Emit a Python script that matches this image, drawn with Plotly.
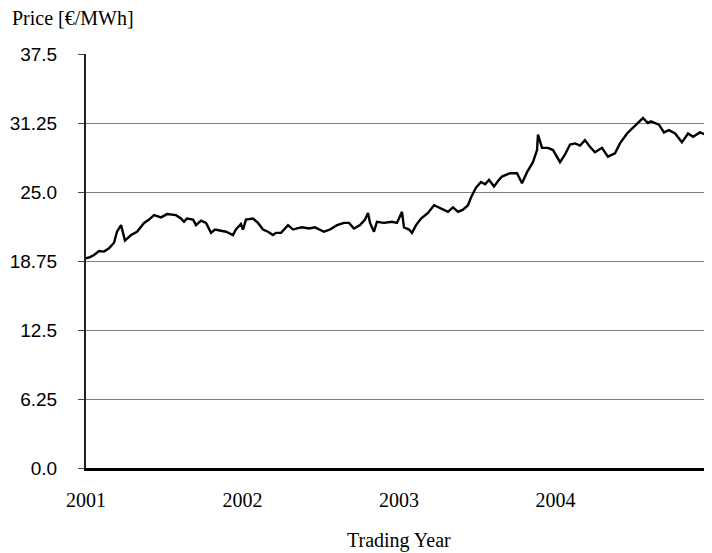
import plotly.graph_objects as go

# trading date as fractional year
years = [
    2001.000, 2001.026, 2001.051, 2001.083, 2001.115, 2001.147, 2001.179, 2001.198,
    2001.224, 2001.249, 2001.288, 2001.326, 2001.371, 2001.403, 2001.435, 2001.479,
    2001.518, 2001.575, 2001.607, 2001.626, 2001.645, 2001.684, 2001.703, 2001.735,
    2001.767, 2001.799, 2001.824, 2001.856, 2001.895, 2001.939, 2001.958, 2001.990,
    2002.003, 2002.022, 2002.067, 2002.099, 2002.131, 2002.163, 2002.195, 2002.214,
    2002.246, 2002.291, 2002.323, 2002.348, 2002.380, 2002.425, 2002.463, 2002.521,
    2002.559, 2002.604, 2002.649, 2002.681, 2002.712, 2002.751, 2002.783, 2002.802,
    2002.815, 2002.840, 2002.859, 2002.904, 2002.955, 2002.987, 2003.006, 2003.019,
    2003.032, 2003.064, 2003.083, 2003.109, 2003.141, 2003.185, 2003.224, 2003.268,
    2003.313, 2003.345, 2003.377, 2003.409, 2003.441, 2003.460, 2003.492, 2003.524,
    2003.550, 2003.575, 2003.607, 2003.639, 2003.658, 2003.709, 2003.754, 2003.786,
    2003.818, 2003.856, 2003.882, 2003.888, 2003.914, 2003.952, 2003.984, 2004.029,
    2004.061, 2004.093, 2004.125, 2004.157, 2004.188, 2004.220, 2004.252, 2004.297,
    2004.335, 2004.380, 2004.412, 2004.457, 2004.495, 2004.534, 2004.559, 2004.591,
    2004.610, 2004.661, 2004.693, 2004.725, 2004.764, 2004.808, 2004.847, 2004.879,
    2004.923, 2004.974, 2005.000,
]
price = [
    19.0, 19.1, 19.3, 19.65, 19.6, 19.9, 20.4, 21.4,
    22.0, 20.6, 21.1, 21.4, 22.2, 22.5, 22.9, 22.7,
    23.0, 22.9, 22.6, 22.3, 22.6, 22.5, 22.0, 22.4,
    22.2, 21.3, 21.6, 21.5, 21.4, 21.1, 21.6, 22.1,
    21.6, 22.5, 22.6, 22.2, 21.6, 21.4, 21.1, 21.3,
    21.3, 22.0, 21.6, 21.7, 21.8, 21.7, 21.8, 21.4,
    21.6, 22.0, 22.2, 22.2, 21.7, 22.0, 22.5, 23.1,
    22.2, 21.4, 22.3, 22.2, 22.3, 22.2, 22.9, 23.2,
    21.8, 21.6, 21.3, 22.0, 22.6, 23.1, 23.8, 23.5,
    23.2, 23.6, 23.2, 23.4, 23.8, 24.5, 25.4, 25.9,
    25.7, 26.1, 25.5, 26.1, 26.4, 26.7, 26.7, 25.8,
    26.8, 27.7, 28.8, 30.2, 29.0, 29.0, 28.8, 27.7,
    28.4, 29.3, 29.4, 29.2, 29.7, 29.1, 28.6, 29.0,
    28.2, 28.5, 29.4, 30.3, 30.8, 31.35, 31.7, 31.25,
    31.4, 31.1, 30.4, 30.6, 30.3, 29.5, 30.3, 30.0,
    30.4, 30.1, 29.1,
]

y_ticks = [0.0, 6.25, 12.5, 18.75, 25.0, 31.25, 37.5]
y_labels = ['0.0', '6.25', '12.5', '18.75', '25.0', '31.25', '37.5']
x_ticks = [2001, 2002, 2003, 2004]

serif = 'Liberation Serif, Times New Roman, serif'
sans = 'Liberation Sans, Arial, sans-serif'

fig = go.Figure()
fig.add_trace(go.Scatter(x=years, y=price, mode='lines',
                         line=dict(color='black', width=2.4), showlegend=False))

# page body has an 8px margin, so the figure is a bit smaller and shifted
fig.update_layout(
    width=704, height=545,
    margin=dict(l=78, r=0, t=46, b=85),
    plot_bgcolor='white', paper_bgcolor='white',
    xaxis=dict(range=[2001, 2005], tickvals=x_ticks, ticktext=[str(t) for t in x_ticks],
               showgrid=False, zeroline=False, showline=True, linecolor='black',
               linewidth=2.5, ticks='', ticklabelstandoff=12, automargin=False,
               tickfont=dict(family=serif, size=20, color='black')),
    yaxis=dict(range=[0, 37.5], tickvals=y_ticks, ticktext=y_labels,
               showgrid=True, gridcolor='#808080', gridwidth=1.2, zeroline=False,
               showline=True, linecolor='#222222', linewidth=2, automargin=False,
               ticks='outside', ticklen=6, tickcolor='#444444', ticklabelstandoff=17,
               tickfont=dict(family=sans, size=19, color='black')),
    annotations=[
        dict(text='Price [€/MWh]', xref='paper', yref='paper', x=-78/626, y=1,
             yshift=36, xshift=2, xanchor='left', yanchor='middle', showarrow=False,
             font=dict(family=serif, size=20, color='black')),
        dict(text='Trading Year', xref='paper', yref='paper', x=0.5, y=0,
             yshift=-72, xanchor='center', yanchor='middle', showarrow=False,
             font=dict(family=serif, size=20, color='black')),
    ],
)

fig.write_html('out.html')
